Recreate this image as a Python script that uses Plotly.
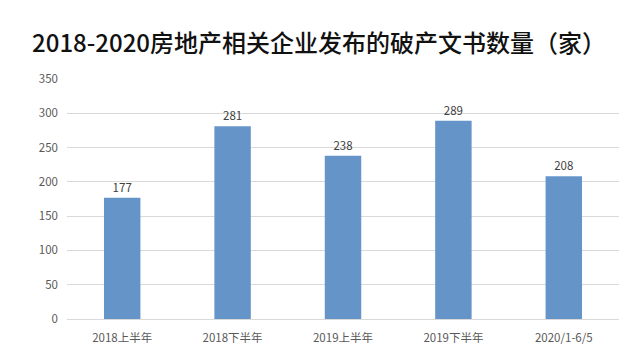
import plotly.graph_objects as go

categories = ["2018上半年", "2018下半年", "2019上半年", "2019下半年", "2020/1-6/5"]
values = [177, 281, 238, 289, 208]
y_ticks = [0, 50, 100, 150, 200, 250, 300, 350]

fig = go.Figure(go.Bar(
    x=categories, y=values,
    marker=dict(color="#6594C8", line=dict(width=0)),
    text=[str(v) for v in values], textposition="outside",
    textfont=dict(size=11.5, color="#404040", family="Noto Sans CJK SC"),
    cliponaxis=False,
))

fig.update_layout(
    width=628, height=364,
    margin=dict(l=67, r=9, t=79, b=45),
    paper_bgcolor="white", plot_bgcolor="white",
    bargap=0.67,
    showlegend=False,
    title=dict(text="2018-2020房地产相关企业发布的破产文书数量（家）",
               x=0.508, xanchor="center", y=0.88, yanchor="middle",
               font=dict(size=24, color="#111111", family="Noto Sans CJK SC", weight=500)),
    font=dict(family="Noto Sans CJK SC", color="#595959", size=11.5),
)
fig.update_traces(textangle=0)
fig.update_yaxes(range=[0, 350], tickvals=y_ticks, showgrid=True, gridcolor="#D9D9D9",
                 gridwidth=1, zeroline=False, showline=False, ticks="",
                 tickfont=dict(size=11.5, color="#595959"), ticklabelstandoff=8)
fig.update_xaxes(showline=True, linecolor="#D9D9D9", linewidth=1, ticks="",
                 tickfont=dict(size=11.5, color="#595959"), ticklabelstandoff=8)

fig.write_html("out.html")
